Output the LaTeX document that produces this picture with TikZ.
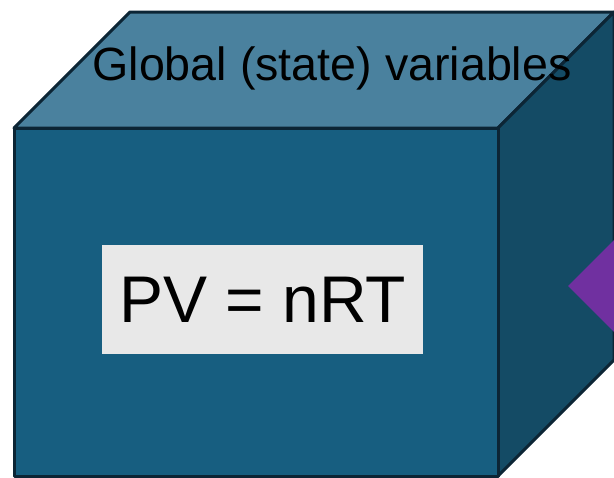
\documentclass[tikz,border=0pt]{standalone}
\usepackage{fontspec}
\setmainfont{Liberation Sans}
\usetikzlibrary{shapes.geometric}

\definecolor{frente}{HTML}{175E80}
\definecolor{topo}{HTML}{4A819E}
\definecolor{lado}{HTML}{144B65}
\definecolor{contorno}{HTML}{0C2535}
\definecolor{caixa}{HTML}{E8E8E8}
\definecolor{roxo}{HTML}{7030A0}

\begin{document}
\begin{tikzpicture}[
      x=0.5pt, y=-0.5pt,
      face/.style={draw=contorno, line width=1.5pt, line join=round},
      titulo/.style={font=\fontsize{23.3}{28}\selectfont, anchor=base},
      equacao/.style={fill=caixa, minimum width=160.5pt, minimum height=54.5pt,
        inner sep=0pt, font=\fontsize{33}{40}\selectfont}
    ]
    \useasboundingbox (0,0) rectangle (614,477);
    \clip (0,0) rectangle (614,477);
    % Cubo
    \coordinate (fa) at (14,128);
    \coordinate (fb) at (498,128);
    \coordinate (fc) at (498,476);
    \coordinate (fd) at (14,476);
    \coordinate (ta) at (130,12);
    \coordinate (tb) at (614,12);
    \coordinate (tc) at (614,360);
    \draw[face, fill=topo] (fa) -- (ta) -- (tb) -- (fb) -- cycle;
    \draw[face, fill=lado] (fb) -- (tb) -- (tc) -- (fc) -- cycle;
    \draw[face, fill=frente] (fa) -- (fb) -- (fc) -- (fd) -- cycle;
    % Losango na face lateral
    \node[diamond, fill=roxo, inner sep=0pt, minimum width=46pt,
      minimum height=46pt] (losango) at (614,286) {};
    % Textos
    \node[titulo] (global) at (332,80) {Global (state) variables};
    \node[equacao] (pv) at (262.5,299.5) {PV = nRT};
  \end{tikzpicture}
\end{document}
